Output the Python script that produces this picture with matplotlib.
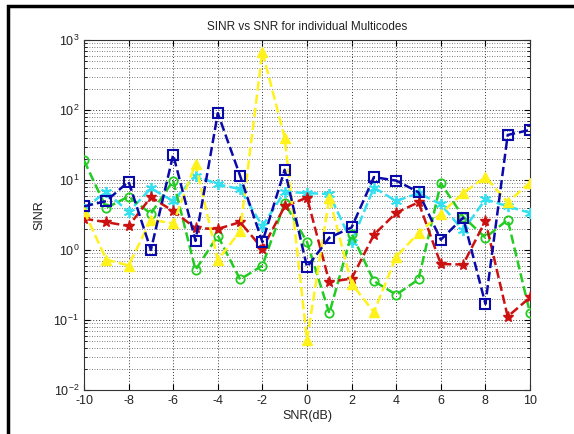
import matplotlib
matplotlib.use("Agg")
import matplotlib.pyplot as plt
from matplotlib.patches import Rectangle
from matplotlib.ticker import LogLocator, NullFormatter

snr = list(range(-10, 11))

sinr_blue = [4.2, 5.0, 9.5, 1.0, 23, 1.35, 90, 11.5, 1.3, 14, 0.57, 1.5, 2.1,
             11, 9.8, 6.7, 1.4, 2.9, 0.17, 44, 52]
sinr_red = [2.8, 2.5, 2.2, 5.7, 3.6, 2.05, 2.0, 2.5, 1.05, 4.2, 5.6, 0.35, 0.39,
            1.65, 3.4, 4.8, 0.63, 0.62, 2.6, 0.112, 0.21]
sinr_green = [19, 4.0, 5.8, 3.3, 9.8, 0.52, 1.6, 0.38, 0.6, 4.7, 1.3, 0.125, 1.7,
              0.36, 0.23, 0.38, 9.0, 3.0, 1.5, 2.7, 0.125]
sinr_yellow = [3.6, 0.73, 0.6, 2.7, 2.4, 17, 0.72, 1.85, 680, 40, 0.052, 5.6, 0.33,
               0.13, 0.8, 1.75, 3.3, 6.5, 11, 4.8, 9.2]
sinr_cyan = [3.9, 6.8, 3.5, 7.6, 5.0, 11.5, 8.7, 7.4, 2.2, 6.8, 6.5, 6.3, 1.3,
             7.8, 5.0, 6.5, 4.5, 1.9, 5.3, 4.2, 3.4]

title = "SINR vs SNR for individual Multicodes"
xlabel = "SNR(dB)"
ylabel = "SINR"

plt.rcParams['font.family'] = ['Liberation Sans', 'DejaVu Sans']
plt.rcParams['axes.unicode_minus'] = False
plt.rcParams['mathtext.fontset'] = 'custom'
plt.rcParams['mathtext.rm'] = 'Liberation Sans'
plt.rcParams['mathtext.it'] = 'Liberation Sans'
plt.rcParams['mathtext.bf'] = 'Liberation Sans'

txt = '#222222'
fig = plt.figure(figsize=(5.74, 4.34), dpi=100)
ax = fig.add_axes([84/574, 1-390/434, (530-84)/574, (390-40)/434])

lw = 1.8
ax.plot(snr, sinr_cyan, linestyle='--', color='#33E0F0', marker=(6, 2, 0), ms=8, mew=1.3, lw=lw, zorder=3)
ax.plot(snr, sinr_green, linestyle='--', color='#22CC22', marker='o', mfc='none', ms=6, mew=1.3, lw=lw, zorder=3)
ax.plot(snr, sinr_red, linestyle='--', color='#CC1111', marker='*', ms=8, mew=1.0, lw=lw, zorder=3)
ax.plot(snr, sinr_yellow, linestyle='--', color='#FFF21A', marker='^', ms=7, mew=1.0, lw=lw, zorder=3)
ax.plot(snr, sinr_blue, linestyle='--', color='#0A0AAA', marker='s', mfc='none', ms=7, mew=1.5, lw=lw, zorder=4)

ax.set_yscale('log')
ax.set_xlim(-10, 10)
ax.set_ylim(1e-2, 1e3)
ax.set_xticks(range(-10, 11, 2))
ax.yaxis.set_major_locator(LogLocator(base=10, numticks=10))
ax.yaxis.set_minor_locator(LogLocator(base=10, subs=range(2, 10), numticks=20))
ax.yaxis.set_minor_formatter(NullFormatter())
ax.grid(True, which='major', linestyle=(0, (1, 2)), color='#333333', lw=0.7)
ax.grid(True, which='minor', axis='y', linestyle=(0, (1, 2)), color='#555555', lw=0.6)
ax.tick_params(direction='in', which='both', top=True, right=True, labelsize=9, labelcolor=txt)
ax.tick_params(which='major', length=4)
ax.tick_params(which='minor', length=2)
for s in ax.spines.values():
    s.set_color('#333333')

ax.set_title(title, fontsize=8.5, pad=7, color=txt)
ax.set_xlabel(xlabel, fontsize=9, labelpad=2, color=txt)
ax.set_ylabel(ylabel, fontsize=9, labelpad=6, color=txt)

# screenshot frame
fig.patches.append(Rectangle((8/574, -0.05), 1.1, (434-6)/434 + 0.05, transform=fig.transFigure,
                             fill=False, edgecolor='black', lw=2.5))

fig.savefig("out.png", dpi=100)
